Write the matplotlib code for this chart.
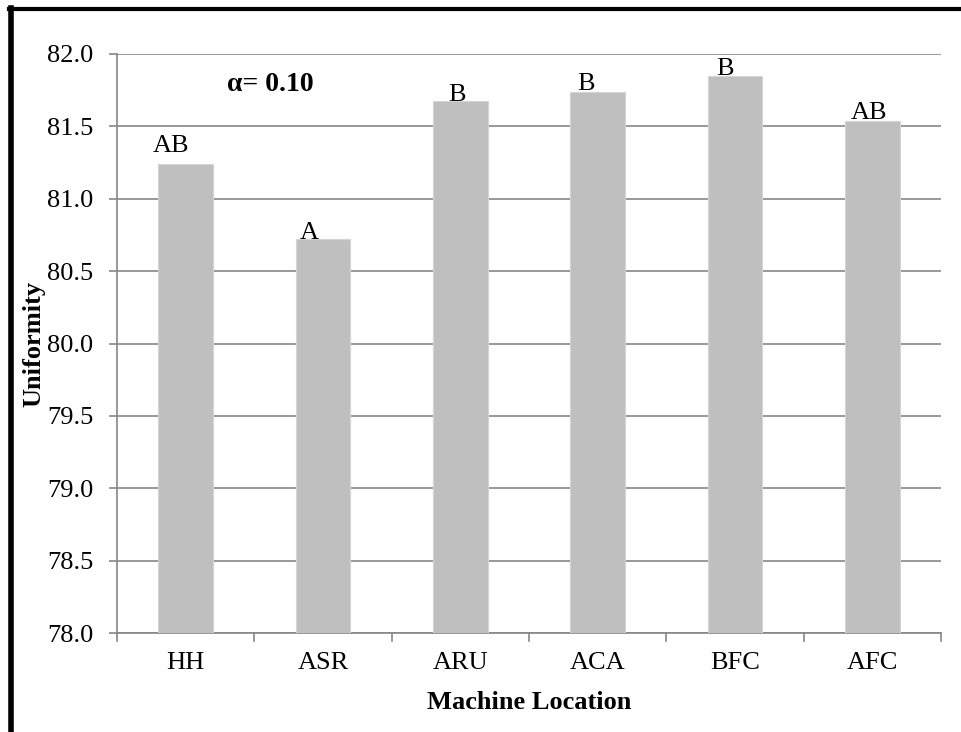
import matplotlib
matplotlib.use('Agg')
import matplotlib.pyplot as plt
from matplotlib.lines import Line2D

# 数据
locations = ['HH', 'ASR', 'ARU', 'ACA', 'BFC', 'AFC']
uniformity = [81.24, 80.72, 81.675, 81.735, 81.85, 81.54]
groups = ['AB', 'A', 'B', 'B', 'B', 'AB']
alpha_text = 'α= 0.10'

# 字母标注的手动偏移（像素），模仿原图中的文本框位置
label_dx = [-15, -14, -3, -12, -10, -3]
label_dy = [7, -5, -5, -3, -4, -3]

plt.rcParams['font.family'] = ['Liberation Serif', 'DejaVu Serif']
FS = 19

fig = plt.figure(figsize=(9.62, 7.32), dpi=100)
ax = fig.add_axes([117 / 962, 1 - 633 / 732, (941 - 117) / 962, (633 - 54) / 732])

x = range(len(locations))
ax.bar(x, uniformity, width=0.40, color='#bfbfbf', edgecolor='#d4d4d4',
       linewidth=0.8, zorder=3)

ax.set_ylim(78.0, 82.0)
ax.set_xlim(-0.5, len(locations) - 0.5)
ax.set_yticks([78.0 + 0.5 * i for i in range(9)])
ax.set_yticklabels([f'{78.0 + 0.5 * i:.1f}' for i in range(9)],
                   fontsize=FS, family=['Liberation Serif', 'DejaVu Serif'])
ax.set_xticks(list(x))
ax.set_xticklabels(locations, fontsize=FS)
ax.tick_params(axis='x', length=0, pad=14)
ax.tick_params(axis='y', length=6, width=1.2, color='#868686', pad=11)

# x 轴分隔刻度
for b in [i - 0.5 for i in range(len(locations) + 1)]:
    ax.plot([b, b], [0, -0.013], transform=ax.get_xaxis_transform(),
            color='#868686', lw=1.2, clip_on=False)

ax.yaxis.grid(True, color='#868686', lw=1.2, zorder=0)
for s in ['top', 'right']:
    ax.spines[s].set_visible(False)
for s in ['left', 'bottom']:
    ax.spines[s].set_color('#868686')
    ax.spines[s].set_linewidth(1.2)

# 字母分组标注
for i, (v, g) in enumerate(zip(uniformity, groups)):
    ax.annotate(g, (i, v), xytext=(label_dx[i], label_dy[i]),
                textcoords='offset pixels', ha='center', va='bottom', fontsize=FS)

ax.text(0.614, 81.79, alpha_text, fontsize=FS + 1, fontweight='bold',
        ha='center', va='center')

ax.set_ylabel('Uniformity', fontsize=FS, fontweight='bold', labelpad=1)
ax.set_xlabel('Machine Location', fontsize=FS, fontweight='bold', labelpad=12)

# 外框（左、上）
fig.add_artist(Line2D([10.5 / 962, 10.5 / 962], [0, 1 - 8 / 732], color='black',
                      lw=4, transform=fig.transFigure))
fig.add_artist(Line2D([8.5 / 962, 1], [1 - 8.5 / 732, 1 - 8.5 / 732], color='black',
                      lw=3, transform=fig.transFigure))

fig.savefig('out.png', dpi=100)
